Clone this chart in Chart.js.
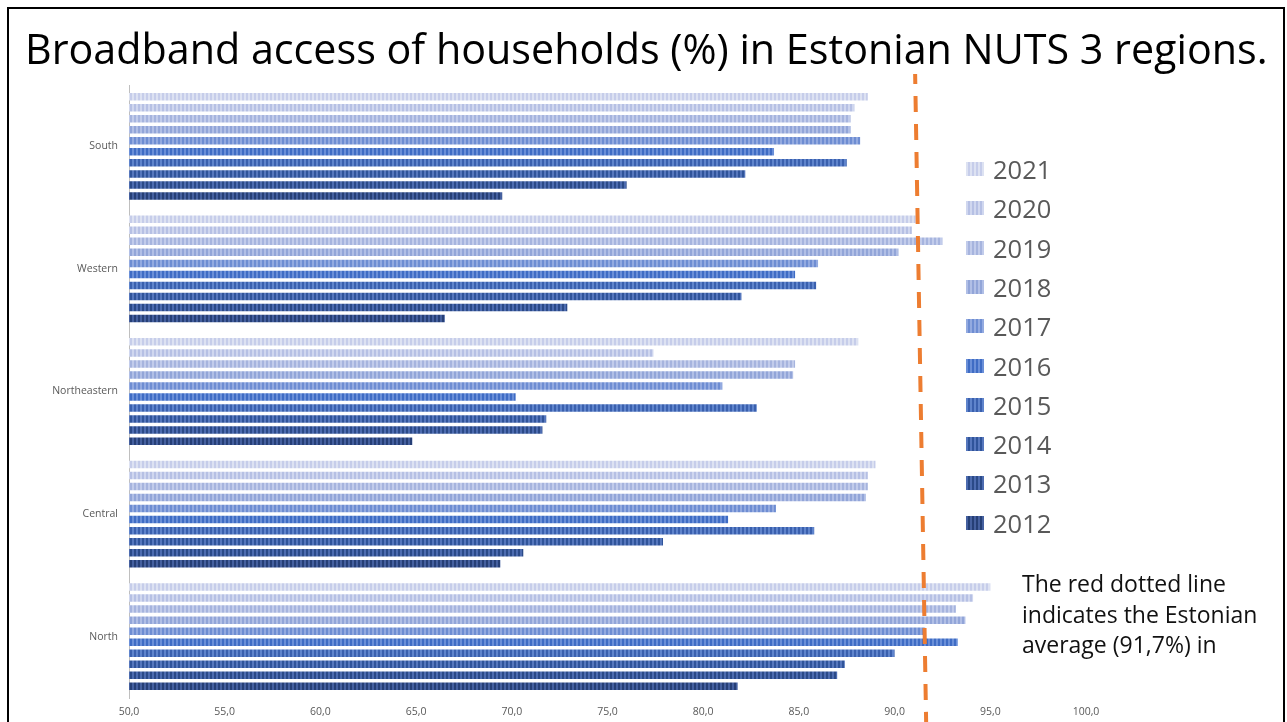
<!DOCTYPE html>
<html><head><meta charset="utf-8">
<script src="https://cdn.jsdelivr.net/npm/chart.js@4.4.0/dist/chart.umd.min.js"></script>
<style>
html,body{margin:0;padding:0;background:#fff;width:1287px;height:722px;overflow:hidden;}
#chart{position:absolute;left:0;top:0;}
#frame{position:absolute;left:7px;top:7px;width:1274px;height:760px;border:2px solid #000;border-bottom:none;pointer-events:none;}
#title{position:absolute;left:25px;top:24px;white-space:nowrap;font-family:'Open Sans',sans-serif;color:#000;font-size:38px;line-height:1.2;}
#legend{position:absolute;left:966px;top:150px;font-family:'Open Sans',sans-serif;}
.row{position:absolute;left:0;height:39px;width:120px;}
.sw{position:absolute;left:0;width:18px;height:14px;}
.lt{position:absolute;left:27px;font-size:25.5px;color:#595959;line-height:30px;white-space:nowrap;}
#note{position:absolute;left:1022px;top:568px;font-family:'Open Sans',sans-serif;font-size:23px;line-height:30.5px;color:#111;white-space:nowrap;}
</style></head>
<body>
<canvas id="chart" width="1287" height="722"></canvas>
<div id="frame"></div>
<div id="title">Broadband access of households (%) in Estonian NUTS 3 regions.</div>
<div id="legend"></div>
<div id="note">The red dotted line<br>indicates the Estonian<br>average (91,7%) in</div>
<script>
// ---- data ----
const regions = ['South', 'Western', 'Northeastern', 'Central', 'North'];
const years = ['2021', '2020', '2019', '2018', '2017', '2016', '2015', '2014', '2013', '2012'];
const v2021 = [88.6, 91.1, 88.1, 89.0, 95.0];
const v2020 = [87.9, 90.9, 77.4, 88.6, 94.1];
const v2019 = [87.7, 92.5, 84.8, 88.6, 93.2];
const v2018 = [87.7, 90.2, 84.7, 88.5, 93.7];
const v2017 = [88.2, 86.0, 81.0, 83.8, 91.6];
const v2016 = [83.7, 84.8, 70.2, 81.3, 93.3];
const v2015 = [87.5, 85.9, 82.8, 85.8, 90.0];
const v2014 = [82.2, 82.0, 71.8, 77.9, 87.4];
const v2013 = [76.0, 72.9, 71.6, 70.6, 87.0];
const v2012 = [69.5, 66.5, 64.8, 69.4, 81.8];
const seriesValues = [v2021, v2020, v2019, v2018, v2017, v2016, v2015, v2014, v2013, v2012];
const estonianAverage = 91.7;
const xTicks = [50, 55, 60, 65, 70, 75, 80, 85, 90, 95, 100];

// ---- styles ----
const baseColors   = ['#dde2f2','#d0d7ef','#c2cceb','#b1bfe6','#93aae0','#6a8fd8','#5f84cc','#5677bd','#4d6cb0','#45609f'];
const stripeColors = ['#c6cdea','#b6c0e4','#a6b4de','#92a5d8','#6e8dd2','#3f6cc4','#3a60ae','#30549a','#2b4a88','#263f76'];

const canvas = document.getElementById('chart');
const ctx = canvas.getContext('2d');
function makePattern(base, stripe) {
  const c = document.createElement('canvas');
  c.width = 4; c.height = 4;
  const g = c.getContext('2d');
  g.fillStyle = base; g.fillRect(0, 0, 4, 4);
  g.fillStyle = stripe; g.fillRect(2, 0, 2, 4);
  return ctx.createPattern(c, 'repeat');
}

// title fit
const title = document.getElementById('title');
const tw = title.getBoundingClientRect().width;
title.style.fontSize = (38 * 1243 / tw) + 'px';

// legend
const legend = document.getElementById('legend');
years.forEach((y, i) => {
  const row = document.createElement('div');
  row.className = 'row';
  row.style.top = (i * 39.3) + 'px';
  const sw = document.createElement('div');
  sw.className = 'sw';
  sw.style.top = '12px';
  sw.style.background = `repeating-linear-gradient(90deg, ${baseColors[i]} 0px, ${baseColors[i]} 2px, ${stripeColors[i]} 2px, ${stripeColors[i]} 4px)`;
  const lt = document.createElement('div');
  lt.className = 'lt';
  lt.style.top = '4px';
  lt.textContent = y;
  row.appendChild(sw); row.appendChild(lt);
  legend.appendChild(row);
});

const avgLine = {
  id: 'avgLine',
  afterDraw(chart) {
    const xs = chart.scales.x;
    const c = chart.ctx;
    const xb = xs.getPixelForValue(estonianAverage);
    c.save();
    c.strokeStyle = '#ed7d31';
    c.lineWidth = 4;
    c.setLineDash([16, 12]);
    c.lineDashOffset = 6;
    c.beginPath();
    c.moveTo(xb - 12, 74);
    c.lineTo(xb - 1, 722);
    c.stroke();
    c.restore();
  }
};

const tickFont = { family: 'Open Sans', size: 10.5 };

new Chart(ctx, {
  type: 'bar',
  data: {
    labels: regions,
    datasets: years.map((y, i) => ({
      label: y,
      data: seriesValues[i],
      backgroundColor: makePattern(baseColors[i], stripeColors[i]),
      borderWidth: 0,
      categoryPercentage: 0.9,
      barPercentage: 0.68
    }))
  },
  options: {
    indexAxis: 'y',
    responsive: false,
    animation: false,
    devicePixelRatio: 1,
    layout: { padding: { top: 85, right: 201, left: 0, bottom: 0 } },
    plugins: { legend: { display: false }, tooltip: { enabled: false }, title: { display: false } },
    scales: {
      x: {
        min: 50, max: 100,
        afterBuildTicks: s => { s.ticks = xTicks.map(v => ({ value: v })); },
        ticks: { callback: v => Number(v).toFixed(1).replace('.', ','), font: tickFont, color: '#595959', padding: 8, maxRotation: 0, autoSkip: false },
        grid: { display: false, drawTicks: false },
        border: { display: false },
        afterFit: s => { s.height = 24; }
      },
      y: {
        ticks: { font: tickFont, color: '#595959', padding: 11 },
        grid: { display: false, drawTicks: false },
        border: { display: true, color: '#bfbfbf', width: 1 },
        afterFit: s => { s.width = 129; }
      }
    }
  },
  plugins: [avgLine]
});
</script>
</body></html>
